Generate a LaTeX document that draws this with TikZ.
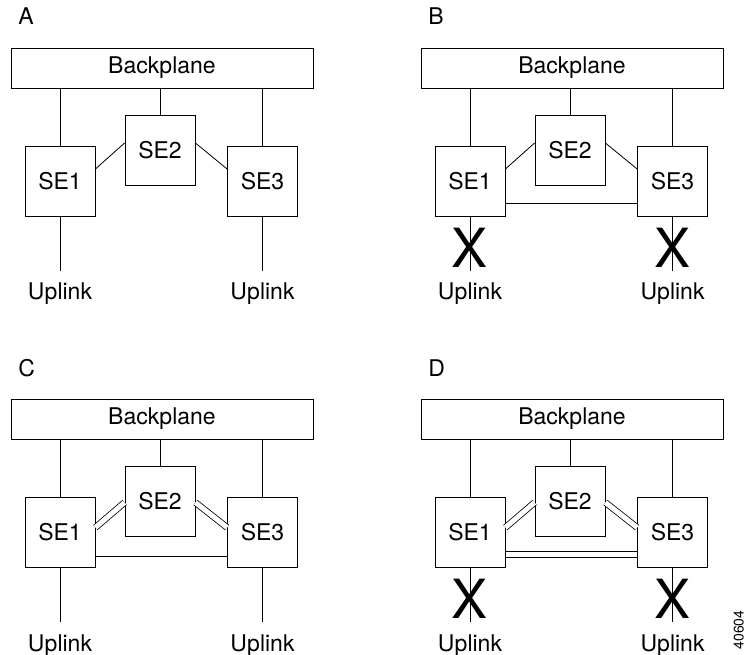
\documentclass[tikz,border=0pt]{standalone}
\usepackage{fontspec}
\setmainfont{TeX Gyre Heros}

\begin{document}
\begin{tikzpicture}[
    x = 1pt,
    y = -1pt,
    line width = 0.8pt,
    font = \fontsize{23}{26}\selectfont,
    box/.style = {
      draw,
      rectangle,
      minimum width = 70pt,
      minimum height = 70pt
    },
    plane/.style = {
      draw,
      rectangle,
      minimum width = 302pt,
      minimum height = 40pt
    },
    uplink/.style = {anchor = base, inner sep = 4pt},
    cross/.style = {
      anchor = base,
      inner sep = 0pt,
      font = \fontsize{54}{60}\selectfont
    },
    pair/.style = {double, double distance = 5pt}
  ]
  \useasboundingbox (0,0) rectangle (745,655);

  % the four panels share the same layout
  \foreach \p/\dx/\dy in {A/0/0, B/410/0, C/0/351, D/410/351} {
    \begin{scope}[shift = {(\dx,\dy)}]
      \node[anchor = base west, inner sep = 0pt] (\p label) at (18,25) {\p};
      \node[plane] (\p bp) at (162,68) {Backplane};
      \node[box] (\p se1) at (60,181) {SE1};
      \node[box] (\p se2) at (160,150.5) {SE2};
      \node[box] (\p se3) at (262.5,181) {SE3};
      \node[uplink] (\p up1) at (60,300) {Uplink};
      \node[uplink] (\p up3) at (262.5,300) {Uplink};

      \draw (\p se1.north) -- (\p se1.north |- \p bp.south);
      \draw (\p se2.north) -- (\p se2.north |- \p bp.south);
      \draw (\p se3.north) -- (\p se3.north |- \p bp.south);

      \draw[shorten >= 8pt] (\p se1.south) -- (\p up1.north);
      \draw[shorten >= 8pt] (\p se3.south) -- (\p up3.north);
    \end{scope}
  }

  % single links
  \foreach \p in {A,B} {
    \draw ([yshift=12pt]\p se1.east) -- ([yshift=7.5pt]\p se2.west);
    \draw ([yshift=7.5pt]\p se2.east) -- ([yshift=12pt]\p se3.west);
  }
  \draw ([yshift=-22pt]Bse1.east) -- ([yshift=-22pt]Bse3.west);

  % double links
  \foreach \p in {C,D} {
    \draw[pair] ([yshift=4.5pt]\p se1.east) -- ([yshift=-1pt]\p se2.west);
    \draw[pair] ([yshift=-1pt]\p se2.east) -- ([yshift=4.5pt]\p se3.west);
  }
  \draw ([yshift=-24.5pt]Cse1.east) -- ([yshift=-24.5pt]Cse3.west);
  \draw ([yshift=-19.2pt]Dse1.east) -- ([yshift=-19.2pt]Dse3.west);
  \draw ([yshift=-25pt]Dse1.east) -- ([yshift=-25pt]Dse3.west);

  % failed uplinks
  \foreach \p in {B,D} {
    \node[cross] (\p x1) at ([yshift=-51pt]\p se1.south) {X};
    \node[cross] (\p x3) at ([yshift=-51pt]\p se3.south) {X};
  }

  \node[rotate = 90, anchor = base, font = \fontsize{14}{16}\selectfont]
    (fignum) at (743.5,630) {40604};

\end{tikzpicture}
\end{document}
